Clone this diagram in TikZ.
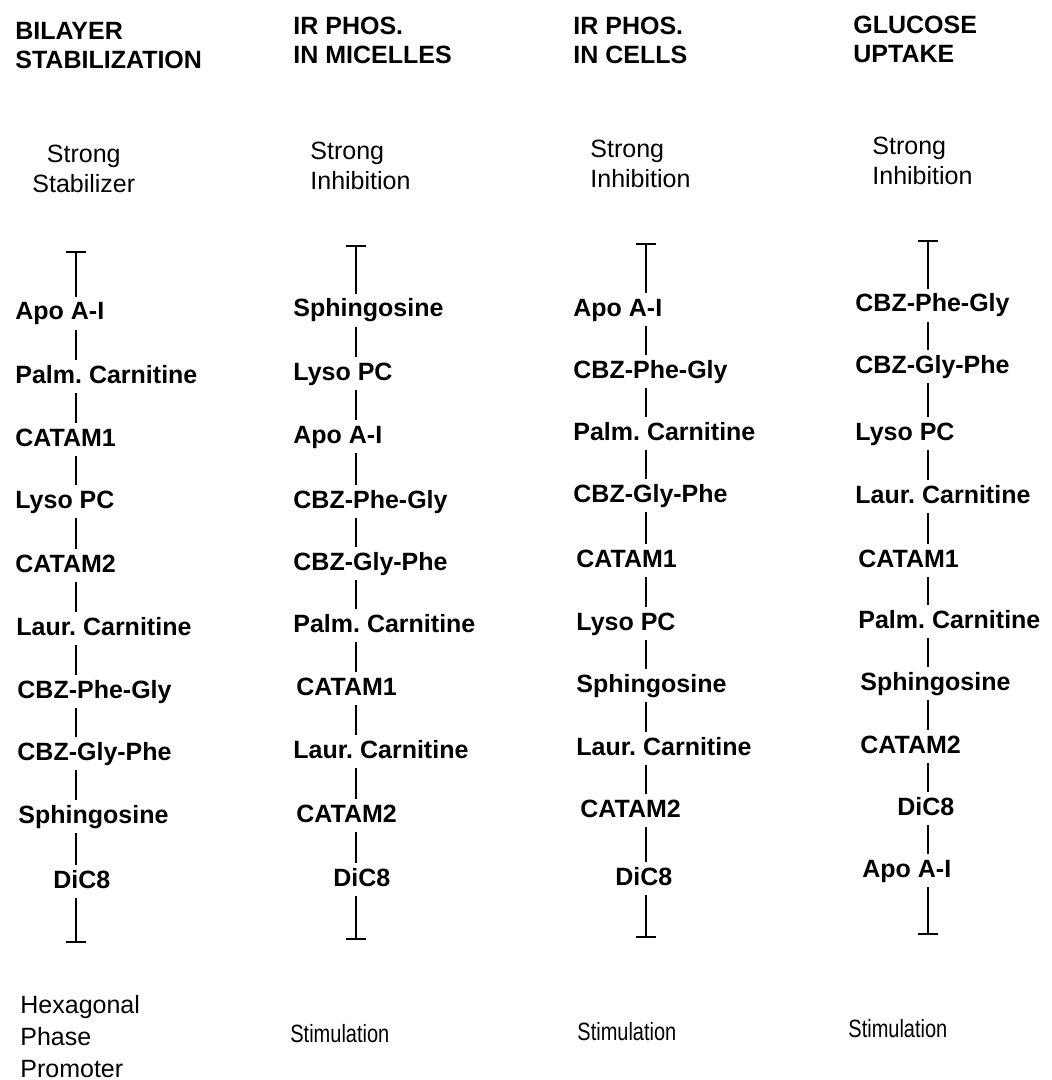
\documentclass[tikz,border=0pt]{standalone}
\usepackage{fontspec}
\setmainfont{Liberation Sans}
\usepackage{graphicx}
\usetikzlibrary{arrows.meta}
\frenchspacing

\begin{document}
\begin{tikzpicture}[x=0.5pt,y=-0.5pt]


	\tikzstyle{head}=[anchor=base west,inner sep=0pt,font=\fontsize{12.5}{14.5}\selectfont\bfseries]
	\tikzstyle{effect}=[anchor=base west,inner sep=0pt,font=\fontsize{12.5}{15}\selectfont]
	\tikzstyle{drug}=[anchor=base west,inner xsep=0pt,inner ysep=2.5pt,text height=9pt,text depth=2.5pt,font=\fontsize{12.5}{15}\selectfont\bfseries]
	\tikzstyle{link}=[line width=0.9pt]

	\useasboundingbox (0,0) rectangle (1052,1080);

	% column headings
	\node[head] (hbil) at (15,40) {\begin{tabular}[t]{@{}l@{}} BILAYER \\ STABILIZATION \end{tabular}};
	\node[head] (hmic) at (293,35) {\begin{tabular}[t]{@{}l@{}} IR PHOS. \\ IN MICELLES \end{tabular}};
	\node[head] (hcel) at (573,35) {\begin{tabular}[t]{@{}l@{}} IR PHOS. \\ IN CELLS \end{tabular}};
	\node[head] (hglu) at (853,34) {\begin{tabular}[t]{@{}l@{}} GLUCOSE \\ UPTAKE \end{tabular}};

	% upper ends
	\node[effect] (sbil) at (32,163) {\begin{tabular}[t]{@{}c@{}} Strong \\ Stabilizer \end{tabular}};
	\node[effect] (smic) at (310,160) {\begin{tabular}[t]{@{}l@{}} Strong \\ Inhibition \end{tabular}};
	\node[effect] (scel) at (590,158) {\begin{tabular}[t]{@{}l@{}} Strong \\ Inhibition \end{tabular}};
	\node[effect] (sglu) at (872,155) {\begin{tabular}[t]{@{}l@{}} Strong \\ Inhibition \end{tabular}};

	% lower ends
	\node[effect,font=\fontsize{12.5}{16}\selectfont] (ebil) at (20,1013) {\begin{tabular}[t]{@{}l@{}} Hexagonal \\ Phase \\ Promoter \end{tabular}};
	\node[effect] (emic) at (290,1042) {\scalebox{0.8}[1]{Stimulation}};
	\node[effect] (ecel) at (577,1040) {\scalebox{0.8}[1]{Stimulation}};
	\node[effect] (eglu) at (848,1037) {\scalebox{0.8}[1]{Stimulation}};

	% ranking: bilayer stabilization
	\coordinate (biltop) at (76,251);
	\coordinate (bilend) at (76,943);
	\node[drug] (bil1) at (15,320) {Apo A-I};
	\node[drug] (bil2) at (15,383) {Palm. Carnitine};
	\node[drug] (bil3) at (15,446) {CATAM1};
	\node[drug] (bil4) at (15,508) {Lyso PC};
	\node[drug] (bil5) at (15,572) {CATAM2};
	\node[drug] (bil6) at (16,635) {Laur. Carnitine};
	\node[drug] (bil7) at (17,698) {CBZ-Phe-Gly};
	\node[drug] (bil8) at (17,760) {CBZ-Gly-Phe};
	\node[drug] (bil9) at (18,823) {Sphingosine};
	\node[drug] (bil10) at (53,888) {DiC8};

	% ranking: IR phosphorylation in micelles
	\coordinate (mictop) at (356,245);
	\coordinate (micend) at (356,940);
	\node[drug] (mic1) at (293,317) {Sphingosine};
	\node[drug] (mic2) at (293,380) {Lyso PC};
	\node[drug] (mic3) at (293,443) {Apo A-I};
	\node[drug] (mic4) at (293,508) {CBZ-Phe-Gly};
	\node[drug] (mic5) at (293,570) {CBZ-Gly-Phe};
	\node[drug] (mic6) at (293,632) {Palm. Carnitine};
	\node[drug] (mic7) at (296,695) {CATAM1};
	\node[drug] (mic8) at (293,758) {Laur. Carnitine};
	\node[drug] (mic9) at (296,822) {CATAM2};
	\node[drug] (mic10) at (333,886) {DiC8};

	% ranking: IR phosphorylation in cells
	\coordinate (celtop) at (646,243);
	\coordinate (celend) at (646,938);
	\node[drug] (cel1) at (573,316) {Apo A-I};
	\node[drug] (cel2) at (573,378) {CBZ-Phe-Gly};
	\node[drug] (cel3) at (573,440) {Palm. Carnitine};
	\node[drug] (cel4) at (573,502) {CBZ-Gly-Phe};
	\node[drug] (cel5) at (576,567) {CATAM1};
	\node[drug] (cel6) at (576,630) {Lyso PC};
	\node[drug] (cel7) at (576,692) {Sphingosine};
	\node[drug] (cel8) at (576,755) {Laur. Carnitine};
	\node[drug] (cel9) at (580,817) {CATAM2};
	\node[drug] (cel10) at (615,885) {DiC8};

	% ranking: glucose uptake
	\coordinate (glutop) at (928,240);
	\coordinate (gluend) at (928,935);
	\node[drug] (glu1) at (855,312) {CBZ-Phe-Gly};
	\node[drug] (glu2) at (855,373) {CBZ-Gly-Phe};
	\node[drug] (glu3) at (855,440) {Lyso PC};
	\node[drug] (glu4) at (855,503) {Laur. Carnitine};
	\node[drug] (glu5) at (858,567) {CATAM1};
	\node[drug] (glu6) at (858,628) {Palm. Carnitine};
	\node[drug] (glu7) at (860,690) {Sphingosine};
	\node[drug] (glu8) at (860,753) {CATAM2};
	\node[drug] (glu9) at (897,815) {DiC8};
	\node[drug] (glu10) at (862,877) {Apo A-I};

	\foreach \col in {bil,mic,cel,glu} {
		\draw[link,{Bar[width=10pt]}-] (\col top) -- (\col1.north -| \col top);
		\foreach \i [count=\j from 2] in {1,...,9}
			\draw[link] (\col\i.south -| \col top) -- (\col\j.north -| \col top);
		\draw[link,-{Bar[width=10pt]}] (\col10.south -| \col top) -- (\col end);
	}

\end{tikzpicture}
\end{document}
